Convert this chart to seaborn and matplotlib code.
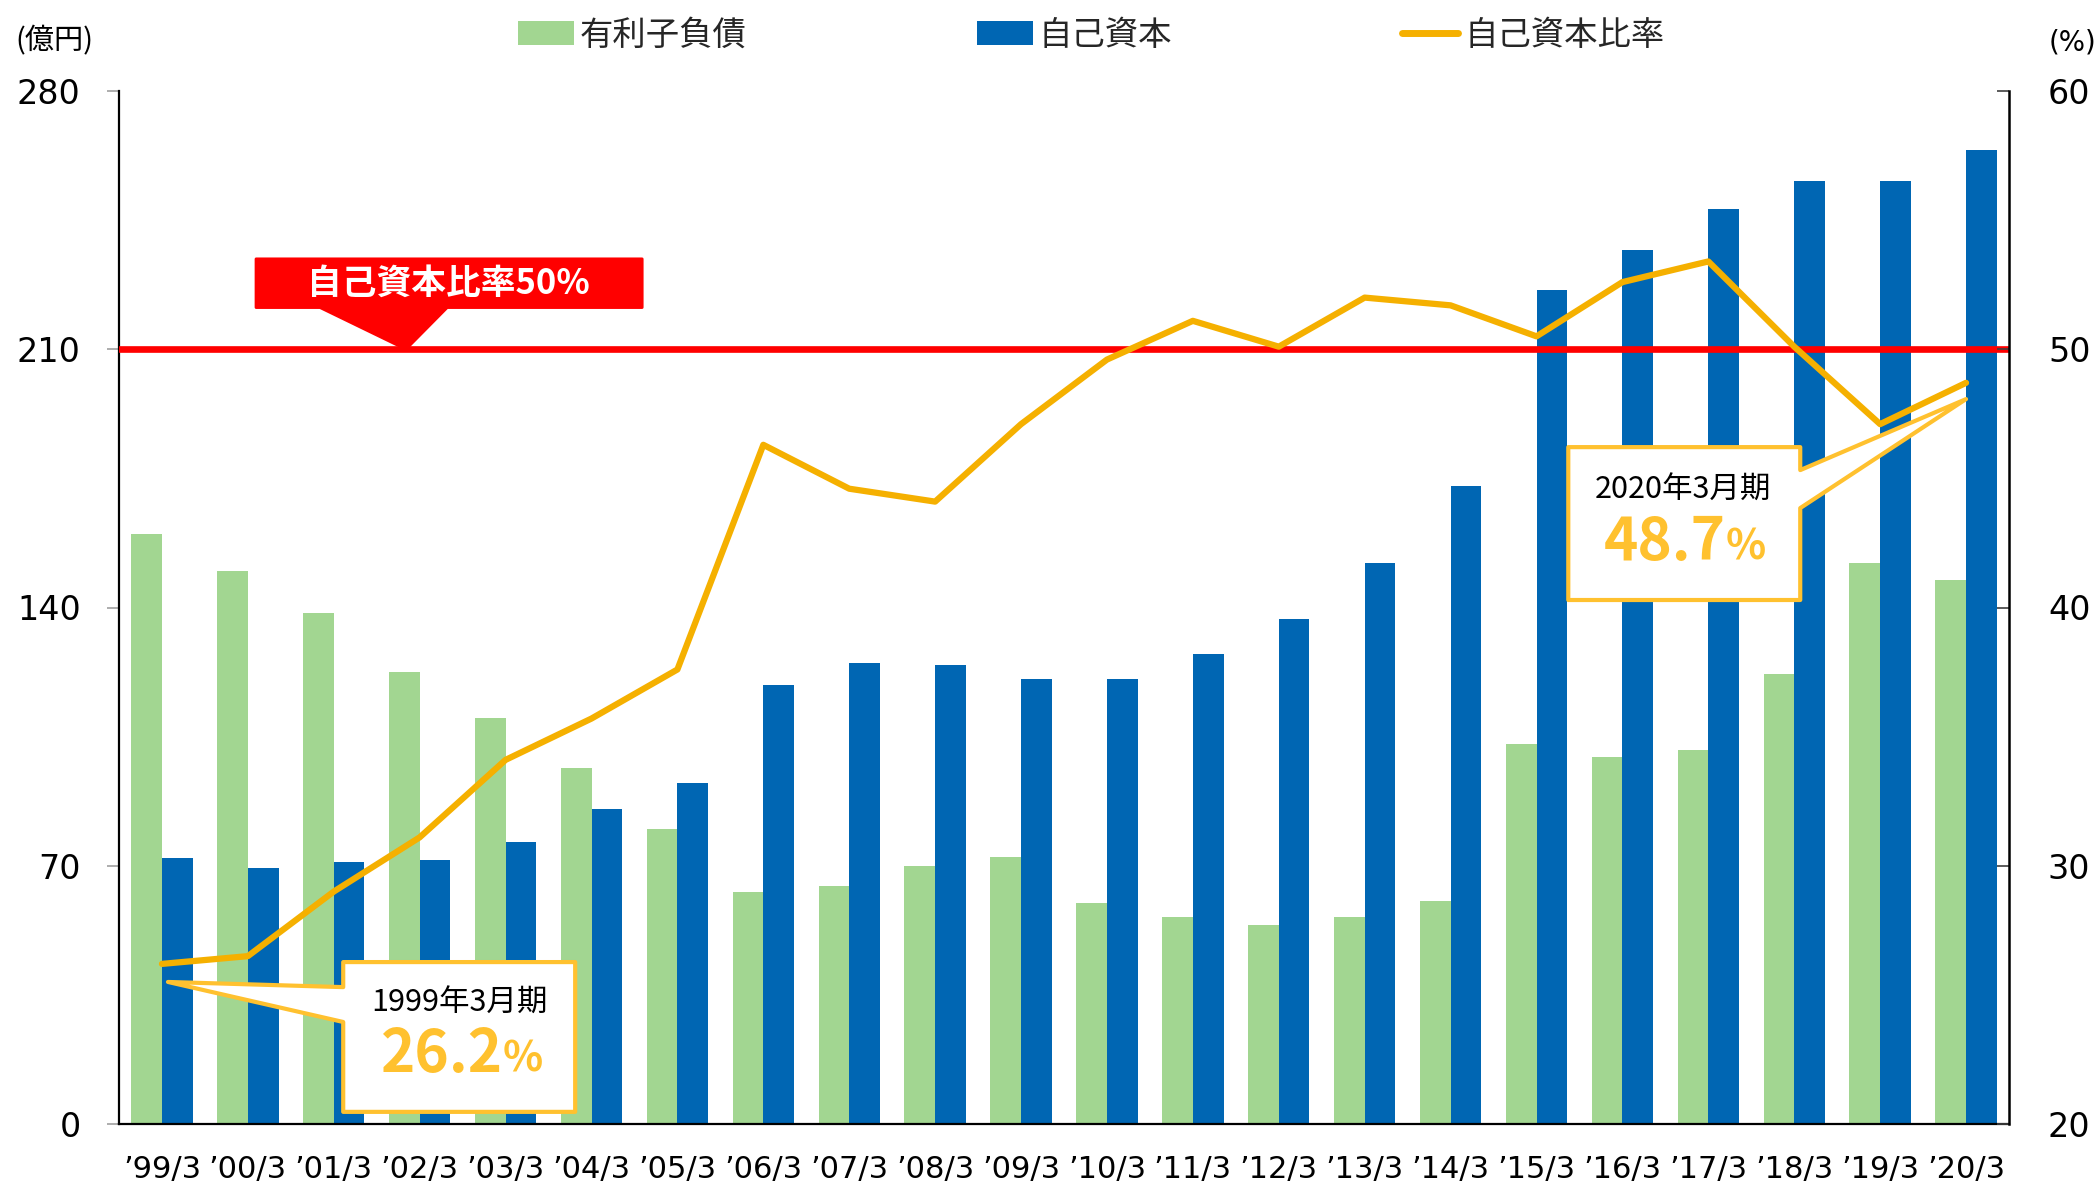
import numpy as np
import pandas as pd
import matplotlib.pyplot as plt
import matplotlib.patches as mpatches
from matplotlib.lines import Line2D
import seaborn as sns

sns.set_theme(style='white')
plt.rcParams['font.family'] = ['DejaVu Sans', 'Noto Sans CJK JP']
JP = ['Noto Sans CJK JP', 'DejaVu Sans']

# =============================================================================
# 01 Data (億円 / %)
# =============================================================================
years = ['’99/3', '’00/3', '’01/3', '’02/3', '’03/3', '’04/3', '’05/3', '’06/3',
         '’07/3', '’08/3', '’09/3', '’10/3', '’11/3', '’12/3', '’13/3', '’14/3',
         '’15/3', '’16/3', '’17/3', '’18/3', '’19/3', '’20/3']
debt = [160, 150, 138.5, 122.5, 110, 96.5, 80, 63, 64.5, 70, 72.5, 60,
        56, 54, 56, 60.5, 103, 99.5, 101.5, 122, 152, 147.5]
equity = [72, 69.5, 71, 71.5, 76.5, 85.5, 92.5, 119, 125, 124.5, 120.5, 120.5,
          127.5, 137, 152, 173, 226, 237, 248, 255.5, 255.5, 264]
ratio = [26.2, 26.5, 29.0, 31.1, 34.1, 35.7, 37.6, 46.3, 44.6, 44.1, 47.1, 49.6,
         51.1, 50.1, 52.0, 51.7, 50.5, 52.6, 53.4, 50.1, 47.1, 48.7]
series_names = ['有利子負債', '自己資本']
line_name = '自己資本比率'
left_ticks = [0, 70, 140, 210, 280]
right_ticks = [20, 30, 40, 50, 60]
target_left = 210   # 50% on the left scale

green = '#A2D691'
blue = '#0066B3'
orange = '#F5B000'
gold = '#FFC12F'
red = '#FF0000'

n = len(years)
df = pd.DataFrame({'期': years * 2,
                   '金額': debt + equity,
                   '区分': [series_names[0]] * n + [series_names[1]] * n})

# =============================================================================
# 02 Plot
# =============================================================================
fig = plt.figure(figsize=(21, 11.91), dpi=100)
ax = fig.add_axes([119 / 2100, 67 / 1191, 1890 / 2100, 1033 / 1191])

sns.barplot(data=df, x='期', y='金額', hue='区分', hue_order=series_names,
            palette=[green, blue], saturation=1, width=0.714, gap=0,
            linewidth=0, legend=False, ax=ax, zorder=2)
ax.axhline(target_left, color=red, lw=4.8, zorder=3)
ax.set_ylim(0, 280)
ax.set_yticks(left_ticks)
ax.set_xlim(-0.5, n - 0.5)
ax.set_xlabel('')
ax.set_ylabel('')

ax2 = ax.twinx()
sns.lineplot(x=years, y=ratio, ax=ax2, color=orange, lw=4.5, sort=False,
             legend=False, zorder=4)
ax2.set_ylim(20, 60)
ax2.set_yticks(right_ticks)
ax2.set_ylabel('')
ax2.set_xlim(-0.5, n - 0.5)

# spines / ticks
for s in ['top', 'right']:
    ax.spines[s].set_visible(False)
for s in ['left', 'bottom']:
    ax.spines[s].set_color('black')
    ax.spines[s].set_linewidth(1.6)
for s in ['top', 'left', 'bottom']:
    ax2.spines[s].set_visible(False)
ax2.spines['right'].set_color('black')
ax2.spines['right'].set_linewidth(1.8)

ax.tick_params(axis='y', left=True, direction='out', length=8.6, width=1.2,
               color='#a0a0a0', pad=19, labelsize=24, labelcolor='black')
ax.tick_params(axis='x', bottom=False, length=0, pad=22, labelsize=22,
               labelcolor='black')
ax2.tick_params(axis='y', right=True, direction='in', length=8.6, width=1.2,
                color='#404040', pad=28, labelsize=24, labelcolor='black')

# red callout "自己資本比率50%"
red_box = [(1.095, 234.5), (5.59, 234.5), (5.59, 221.3), (3.32, 221.3),
           (2.84, target_left), (1.84, 221.3), (1.095, 221.3)]
ax.add_patch(mpatches.Polygon(red_box, closed=True, facecolor=red, edgecolor=red,
                              lw=2, joinstyle='round', zorder=5))
ax.text(3.33, 228, '自己資本比率50%', ha='center', va='center', color='white',
        fontsize=25, fontweight='bold', family=JP, zorder=6)

# callout 1999
apex1 = (0.07, ratio[0] - 0.7)
box1 = [(2.11, 26.27), (4.81, 26.27), (4.81, 20.47), (2.11, 20.47),
        (2.11, 23.95), apex1, (2.11, 25.3)]
ax2.add_patch(mpatches.Polygon(box1, closed=True, facecolor='white', edgecolor=gold,
                               lw=3, joinstyle='round', zorder=5))
ax2.text(3.46, 24.69, '1999年3月期', ha='center', va='center', fontsize=22,
         family=JP, color='black', zorder=6)
ax2.text(3.97, 22.03, f'{ratio[0]:.1f}', ha='right', va='baseline', fontsize=42,
         fontweight='bold', family=JP, color=gold, zorder=6)
ax2.text(3.97, 22.03, '%', ha='left', va='baseline', fontsize=30,
         fontweight='bold', family=JP, color=gold, zorder=6)

# callout 2020
apex2 = (n - 1, ratio[-1] - 0.63)
box2 = [(16.37, 46.21), (19.07, 46.21), (19.07, 45.32), apex2, (19.07, 43.85),
        (19.07, 40.29), (16.37, 40.29)]
ax2.add_patch(mpatches.Polygon(box2, closed=True, facecolor='white', edgecolor=gold,
                               lw=3, joinstyle='round', zorder=5))
ax2.text(17.71, 44.55, '2020年3月期', ha='center', va='center', fontsize=22,
         family=JP, color='black', zorder=6)
ax2.text(18.2, 41.84, f'{ratio[-1]:.1f}', ha='right', va='baseline', fontsize=42,
         fontweight='bold', family=JP, color=gold, zorder=6)
ax2.text(18.2, 41.84, '%', ha='left', va='baseline', fontsize=30,
         fontweight='bold', family=JP, color=gold, zorder=6)

# legend
handles = [mpatches.Patch(facecolor=green, edgecolor='none'),
           mpatches.Patch(facecolor=blue, edgecolor='none'),
           Line2D([], [], color=orange, lw=5, solid_capstyle='round')]
fig.legend(handles, series_names + [line_name], loc='center left',
           bbox_to_anchor=(518 / 2100, 1 - 35 / 1191), ncol=3, frameon=False,
           prop={'family': JP, 'size': 24}, handlelength=1.68, handleheight=0.72,
           handletextpad=0.18, columnspacing=6.9, borderaxespad=0, borderpad=0)

# unit labels
fig.text(15 / 2100, 1 - 41 / 1191, '(億円)', ha='left', va='center', fontsize=21,
         family=JP, color='black')
fig.text(2096 / 2100, 1 - 42 / 1191, '(%)', ha='right', va='center', fontsize=20,
         color='black')

fig.savefig('out.png', dpi=100)
